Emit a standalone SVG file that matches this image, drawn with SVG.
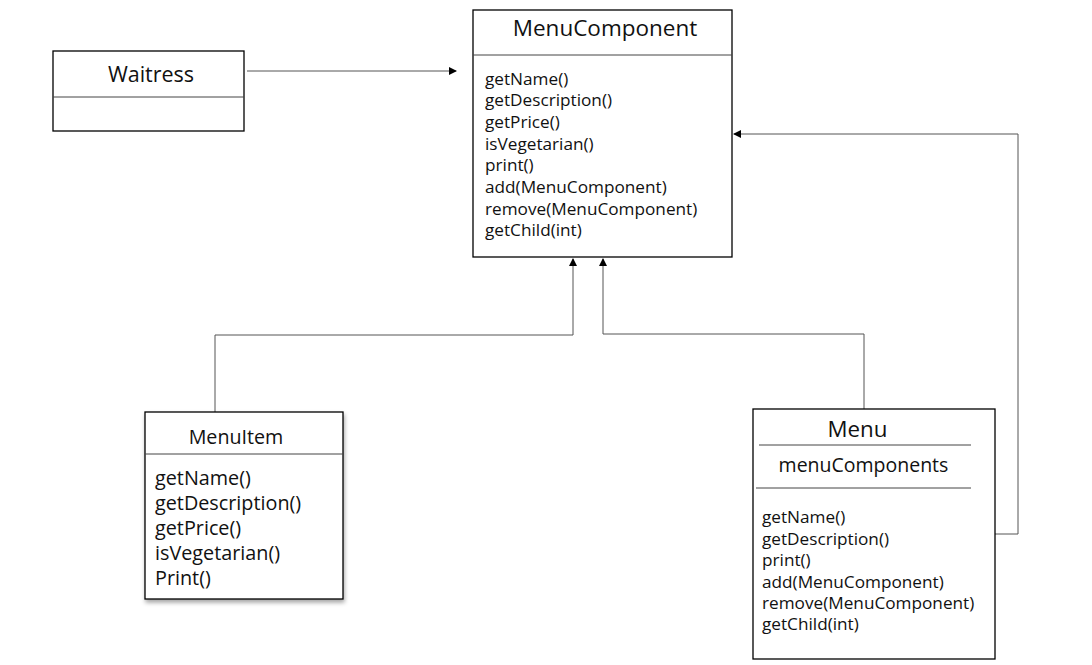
<svg xmlns="http://www.w3.org/2000/svg" width="1092" height="665" viewBox="0 0 1092 665">
<style>
.box{fill:#fff;stroke:#000;stroke-width:1.3}
.div{stroke:#444;stroke-width:1;fill:none}
.conn{stroke:#555;stroke-width:1;fill:none}
text{font-family:"Open Sans","Noto Sans","DejaVu Sans",sans-serif;fill:#111}
.title{font-size:21.5px;text-anchor:middle}
.m{font-size:17.2px}
.mi{font-size:19.8px}
.mm{font-size:17.2px}
</style>
<defs>
<marker id="arr" markerWidth="8" markerHeight="8" refX="7" refY="4" orient="auto" markerUnits="userSpaceOnUse">
<path d="M0,0 L8,4 L0,8 Z" fill="#000"/>
</marker>
<filter id="sh" x="-10%" y="-10%" width="125%" height="125%">
<feDropShadow dx="1" dy="3" stdDeviation="2" flood-color="#000" flood-opacity="0.35"/>
</filter>
</defs>
<g id="connectors">
<line class="conn" x1="247" y1="71" x2="456" y2="71" marker-end="url(#arr)"/>
<polyline class="conn" points="215,412 215,335 573,335 573,259" marker-end="url(#arr)"/>
<polyline class="conn" points="864,409 864,334 603,334 603,259" marker-end="url(#arr)"/>
<polyline class="conn" points="995,534 1018,534 1018,134 734,134" marker-end="url(#arr)"/>
</g>
<g id="waitress">
<rect class="box" x="53" y="51" width="191" height="80"/>
<line class="div" x1="53" y1="97" x2="244" y2="97"/>
<text class="title" x="151" y="82">Waitress</text>
</g>
<g id="menucomponent">
<rect class="box" x="473" y="10" width="259" height="247"/>
<line class="div" x1="473" y1="55" x2="732" y2="55"/>
<text class="title" x="605" y="36" style="font-size:22.5px">MenuComponent</text>
<text class="m" x="485" y="84.5">getName()</text>
<text class="m" x="485" y="106.2">getDescription()</text>
<text class="m" x="485" y="127.9">getPrice()</text>
<text class="m" x="485" y="149.6">isVegetarian()</text>
<text class="m" x="485" y="171.3">print()</text>
<text class="m" x="485" y="193">add(MenuComponent)</text>
<text class="m" x="485" y="214.7">remove(MenuComponent)</text>
<text class="m" x="485" y="236.4">getChild(int)</text>
</g>
<g id="menuitem">
<rect class="box" x="145" y="412" width="198" height="187" filter="url(#sh)"/>
<line class="div" x1="145" y1="454" x2="343" y2="454"/>
<text class="title" x="236" y="444" style="font-size:19.7px">MenuItem</text>
<text class="mi" x="155" y="484.5">getName()</text>
<text class="mi" x="155" y="509.5">getDescription()</text>
<text class="mi" x="155" y="534.5">getPrice()</text>
<text class="mi" x="155" y="559.5">isVegetarian()</text>
<text class="mi" x="155" y="584.5">Print()</text>
</g>
<g id="menu">
<rect class="box" x="753" y="409" width="242" height="250"/>
<text class="title" x="857.5" y="437" style="font-size:22.3px">Menu</text>
<line class="div" x1="759" y1="445" x2="971" y2="445"/>
<text class="title" x="863.5" y="472" style="font-size:19.5px">menuComponents</text>
<line class="div" x1="756" y1="488" x2="971" y2="488"/>
<text class="mm" x="762" y="523.4">getName()</text>
<text class="mm" x="762" y="544.8">getDescription()</text>
<text class="mm" x="762" y="566.2">print()</text>
<text class="mm" x="762" y="587.6">add(MenuComponent)</text>
<text class="mm" x="762" y="609">remove(MenuComponent)</text>
<text class="mm" x="762" y="630.4">getChild(int)</text>
</g>
</svg>
